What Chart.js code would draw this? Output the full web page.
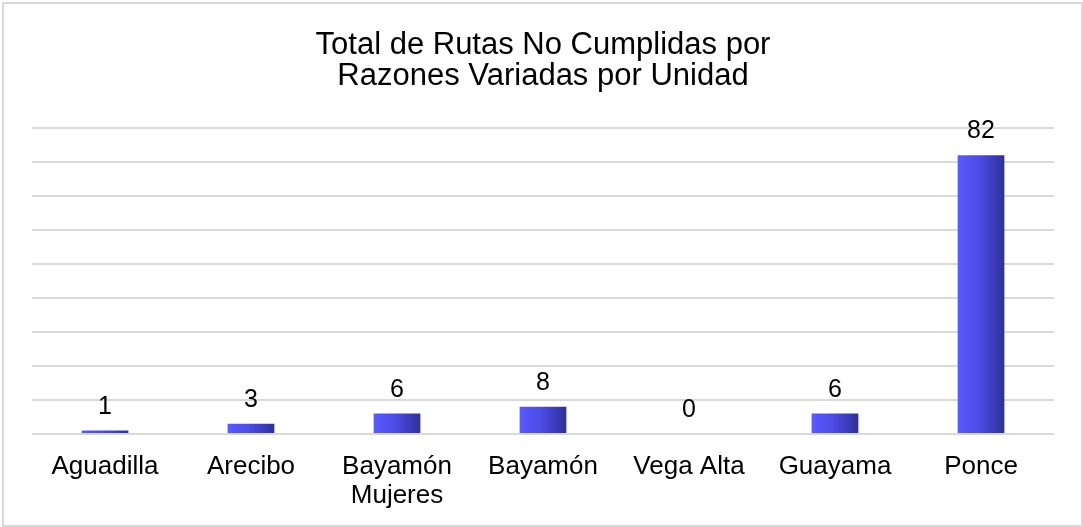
<!DOCTYPE html>
<html>
<head>
<meta charset="utf-8">
<script src="https://cdn.jsdelivr.net/npm/chart.js@4"></script>
<style>
    body { margin: 0; background: #fff; }
    #box {
        position: absolute;
        left: 2px; top: 2px;
        width: 1077px; height: 521px;
        border: 2px solid #d9d9d9;
        background: #fff;
    }
</style>
</head>
<body>
<div id="box"><canvas id="rutasChart" width="1077" height="521"></canvas></div>
<script>
// 데이터
const categories = ['Aguadilla', 'Arecibo', ['Bayamón', 'Mujeres'], 'Bayamón', 'Vega Alta', 'Guayama', 'Ponce'];
const rutasNoCumplidas = [1, 3, 6, 8, 0, 6, 82];
const yTicks = [0, 10, 20, 30, 40, 50, 60, 70, 80, 90];

const fontFamily = '"Liberation Sans", Arial, sans-serif';

// 막대 위에 값 표시
const valueLabels = {
    id: 'valueLabels',
    afterDatasetsDraw(chart) {
        const ctx = chart.ctx;
        const meta = chart.getDatasetMeta(0);
        ctx.save();
        ctx.font = '25px ' + fontFamily;
        ctx.fillStyle = '#000';
        ctx.textAlign = 'center';
        ctx.textBaseline = 'alphabetic';
        meta.data.forEach((bar, i) => {
            ctx.fillText(String(rutasNoCumplidas[i]), bar.x, bar.y - 17);
        });
        ctx.restore();
    }
};

// 막대 그라데이션 (왼쪽 밝게, 오른쪽 어둡게)
function barGradient(context) {
    const chart = context.chart;
    const xScale = chart.scales.x;
    if (context.dataIndex === undefined || !xScale || !chart.chartArea) {
        return '#5555ff';
    }
    const cx = xScale.getPixelForValue(context.dataIndex);
    const half = xScale.width / categories.length * 0.32 / 2;
    const g = chart.ctx.createLinearGradient(cx - half, 0, cx + half, 0);
    g.addColorStop(0, '#5a5aff');
    g.addColorStop(0.45, '#4c4ce6');
    g.addColorStop(1, '#303098');
    return g;
}

new Chart(document.getElementById('rutasChart'), {
    type: 'bar',
    data: {
        labels: categories,
        datasets: [{
            label: 'Rutas No Cumplidas',
            data: rutasNoCumplidas,
            backgroundColor: barGradient,
            borderWidth: 0,
            categoryPercentage: 1,
            barPercentage: 0.32
        }]
    },
    options: {
        responsive: false,
        animation: false,
        layout: {
            padding: { left: 28, right: 27, top: 0, bottom: 0 }
        },
        plugins: {
            legend: { display: false },
            tooltip: { enabled: false },
            title: {
                display: true,
                text: ['Total de Rutas No Cumplidas por', 'Razones Variadas por Unidad'],
                color: '#000',
                font: { family: fontFamily, size: 31, weight: 'normal', lineHeight: 1.0 },
                padding: { top: 26, bottom: 36 }
            }
        },
        scales: {
            x: {
                grid: { display: false },
                border: { display: false },
                afterFit: (scale) => { scale.height = 91; },
                ticks: {
                    color: '#000',
                    padding: 10,
                    maxRotation: 0,
                    autoSkip: false,
                    font: { family: fontFamily, size: 26, lineHeight: 1.12 }
                }
            },
            y: {
                min: 0,
                max: 90,
                afterBuildTicks: (scale) => {
                    scale.ticks = yTicks.map(v => ({ value: v }));
                },
                afterFit: (scale) => { scale.width = 0; },
                grid: { color: '#d9d9d9', lineWidth: 2, drawTicks: false },
                border: { display: false },
                ticks: { display: false }
            }
        }
    },
    plugins: [valueLabels]
});
</script>
</body>
</html>
